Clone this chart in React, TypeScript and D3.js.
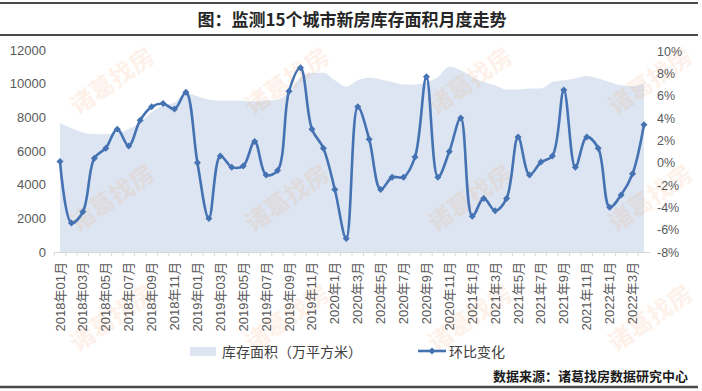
import * as d3 from "d3";

const W = 702;
const H = 391;

const months = [
  "2018年01月", "2018年02月", "2018年03月", "2018年04月", "2018年05月", "2018年06月",
  "2018年07月", "2018年08月", "2018年09月", "2018年10月", "2018年11月", "2018年12月",
  "2019年01月", "2019年02月", "2019年03月", "2019年04月", "2019年05月", "2019年06月",
  "2019年07月", "2019年08月", "2019年09月", "2019年10月", "2019年11月", "2019年12月",
  "2020年1月", "2020年2月", "2020年3月", "2020年4月", "2020年5月", "2020年6月",
  "2020年7月", "2020年8月", "2020年9月", "2020年10月", "2020年11月", "2020年12月",
  "2021年1月", "2021年2月", "2021年3月", "2021年4月", "2021年5月", "2021年6月",
  "2021年7月", "2021年8月", "2021年9月", "2021年10月", "2021年11月", "2021年12月",
  "2022年1月", "2022年2月", "2022年3月", "2022年4月",
];

// 库存面积（万平方米）
const inventory = [
  7650, 7350, 7100, 7000, 7000, 7050, 7300, 7700, 8300, 8700, 8900, 9450,
  9250, 9050, 9000, 9000, 8980, 8950, 9000, 9050, 9500, 10400, 10650, 10650,
  10200, 9820, 10200, 10350, 10250, 10100, 9950, 9950, 10100, 10400, 11000, 10800,
  10400, 10100, 9900, 9650, 9650, 9720, 9720, 10100, 10200, 10300, 10450, 10300,
  10100, 9900, 9850, 10020,
];

// 环比变化 (%)
const momChange = [
  0.1, -5.4, -4.4, 0.4, 1.3, 3.0, 1.5, 3.8, 5.0, 5.3, 4.8, 6.3,
  0.0, -5.0, 0.6, -0.4, -0.3, 1.9, -1.1, -0.7, 6.4, 8.5, 3.0, 1.3,
  -2.4, -6.8, 5.0, 2.1, -2.4, -1.3, -1.3, 0.5, 7.7, -1.3, 1.0, 4.0,
  -4.8, -3.2, -4.3, -3.2, 2.3, -1.1, 0.05, 0.6, 6.5, -0.4, 2.3, 1.3,
  -4.0, -2.9, -1.0, 3.4,
];

const leftTicks = [0, 2000, 4000, 6000, 8000, 10000, 12000];
const rightTicks = [-8, -6, -4, -2, 0, 2, 4, 6, 8, 10];

const AREA_FILL = "#dce5f1";
const LINE = "#4472b2";
const TEXT = "#595959";

const wmX = [117, 292, 475, 655];
const wmY = [88, 205, 325];

export default function App() {
  const idx = months.map((_, i) => i);
  const x = d3.scalePoint<number>().domain(idx).range([60, 644]);
  const yL = d3.scaleLinear().domain([0, 12000]).range([252, 50]);
  const yR = d3.scaleLinear().domain([-8, 10]).range([252, 51]);

  const area = d3
    .area<number>()
    .x((_, i) => x(i)!)
    .y0(yL(0))
    .y1((d) => yL(d))
    .curve(d3.curveMonotoneX);

  const line = d3
    .line<number>()
    .x((_, i) => x(i)!)
    .y((d) => yR(d))
    .curve(d3.curveCatmullRom.alpha(0.5));

  const step = x.step();

  return (
    <svg
      width={W}
      height={H}
      style={{ position: "absolute", left: 0, top: 0, display: "block", background: "#fff" }}
      fontFamily="'Liberation Sans', 'Noto Sans CJK SC', sans-serif"
    >
      {/* header rules and title */}
      <line x1={0} x2={698} y1={3} y2={3} stroke="#4a4a4a" strokeWidth={2} />
      <line x1={0} x2={698} y1={35} y2={35} stroke="#4a4a4a" strokeWidth={2} />
      <text
        x={352}
        y={26}
        textAnchor="middle"
        fontSize={17}
        fontWeight={700}
        fill="#262626"
        fontFamily="'Noto Sans CJK SC', sans-serif"
      >
        图：监测15个城市新房库存面积月度走势
      </text>

      {/* inventory area */}
      <path d={area(inventory) ?? ""} fill={AREA_FILL} />

      {/* watermarks */}
      {wmY.map((wy) =>
        wmX.map((wx) => (
          <text
            key={`${wx}-${wy}`}
            x={wx}
            y={wy}
            textAnchor="middle"
            fontSize={24}
            fontWeight={700}
            fill="#f2a36a"
            opacity={0.14}
            transform={`rotate(-35 ${wx} ${wy})`}
            fontFamily="'Noto Sans CJK SC', sans-serif"
          >
            诸葛找房
          </text>
        ))
      )}

      {/* x axis */}
      <line x1={54} x2={650} y1={252.5} y2={252.5} stroke="#d9d9d9" />
      {idx.map((i) => (
        <line
          key={`t${i}`}
          x1={x(i)! - step / 2}
          x2={x(i)! - step / 2}
          y1={252.5}
          y2={256}
          stroke="#d9d9d9"
        />
      ))}
      {idx
        .filter((i) => i % 2 === 0)
        .map((i) => (
          <text
            key={`xl${i}`}
            transform={`translate(${x(i)! + 4.5},${262}) rotate(-90)`}
            textAnchor="end"
            fontSize={13}
            fill={TEXT}
          >
            {months[i]}
          </text>
        ))}

      {/* left axis labels */}
      {leftTicks.map((t) => (
        <text key={`l${t}`} x={46} y={yL(t) + 4.5} textAnchor="end" fontSize={13} fill={TEXT}>
          {t}
        </text>
      ))}

      {/* right axis labels */}
      {rightTicks.map((t) => (
        <text key={`r${t}`} x={657} y={yR(t) + 4.5} textAnchor="start" fontSize={12.5} fill={TEXT}>
          {`${t}%`}
        </text>
      ))}

      {/* month-on-month line */}
      <path d={line(momChange) ?? ""} fill="none" stroke={LINE} strokeWidth={2.6} />
      {momChange.map((v, i) => (
        <path
          key={`m${i}`}
          d={`M${x(i)!},${yR(v) - 3.5}L${x(i)! + 3.5},${yR(v)}L${x(i)!},${yR(v) + 3.5}L${x(i)! - 3.5},${yR(v)}Z`}
          fill={LINE}
        />
      ))}

      {/* legend */}
      <rect x={190} y={347} width={26} height={9} fill={AREA_FILL} />
      <text x={222} y={356.5} fontSize={14} fill="#404040" fontFamily="'Noto Sans CJK SC', sans-serif">
        库存面积（万平方米）
      </text>
      <line x1={418} x2={446} y1={351} y2={351} stroke={LINE} strokeWidth={2.6} />
      <path d="M432,347.5L435.5,351L432,354.5L428.5,351Z" fill={LINE} />
      <text x={449} y={356.5} fontSize={14} fill="#404040" fontFamily="'Noto Sans CJK SC', sans-serif">
        环比变化
      </text>

      {/* source */}
      <text
        x={688}
        y={381}
        textAnchor="end"
        fontSize={13}
        fontWeight={700}
        fill="#1a1a1a"
        fontFamily="'Noto Sans CJK SC', sans-serif"
      >
        数据来源：诸葛找房数据研究中心
      </text>
      <line x1={0} x2={698} y1={387} y2={387} stroke="#4a4a4a" strokeWidth={2.5} />
    </svg>
  );
}
